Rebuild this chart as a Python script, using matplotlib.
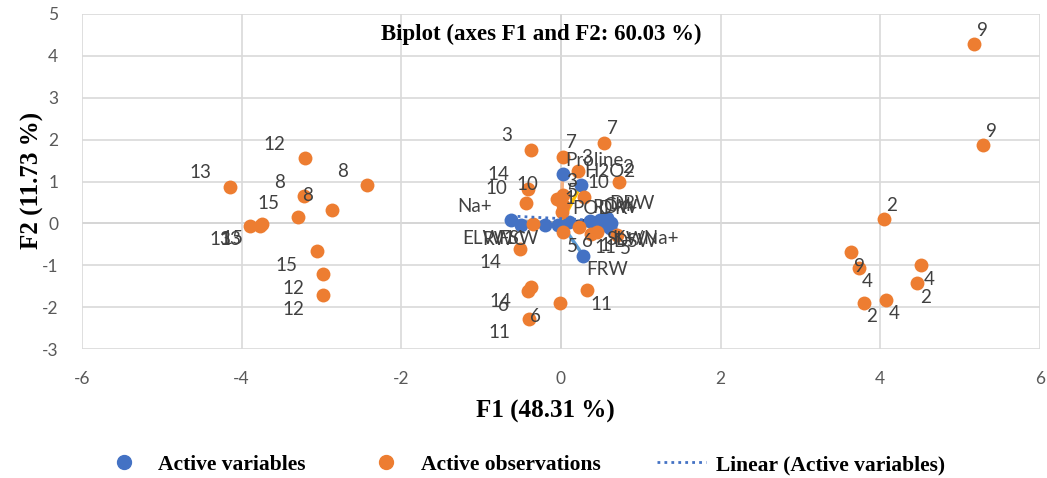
import numpy as np
import matplotlib
matplotlib.use('Agg')
import matplotlib.pyplot as plt
from matplotlib.lines import Line2D

plt.rcParams['axes.unicode_minus'] = False

# Active variables (PCA loadings)
var_names = ['Proline', 'H2O2', 'POD', 'RDW', 'K+', 'Chl', 'DRW',
             'K+/Na+', 'SLW', 'DSW', 'FRW', 'Na+', 'ELW', 'FSW', 'RWC']
var_x = [0.02, 0.25, 0.10, 0.36, 0.63, 0.49, 0.57,
         0.60, 0.53, 0.62, 0.28, -0.63, -0.50, -0.04, -0.20]
var_y = [1.17, 0.91, 0.03, 0.05, 0.02, 0.09, 0.13,
         -0.03, -0.05, -0.10, -0.77, 0.07, -0.03, -0.03, -0.05]

# Active observations
obs_x = [4.04, 3.63, 3.73, 3.79, 4.07, 4.51, 4.46, 5.17, 5.28,
         -3.21, -4.14, -2.43, -3.22, -2.87, -3.29, -3.89, -3.77, -3.74,
         -3.06, -2.98, -2.98,
         -0.38, 0.54, 0.03, 0.21, 0.73, -0.41, -0.44, -0.05, 0.03, 0.29,
         0.03, 0.01, -0.35, 0.03, 0.22, 0.38, 0.70, 0.45, -0.51, -0.38,
         -0.41, -0.40, -0.01, 0.33]
obs_y = [0.10, -0.69, -1.06, -1.90, -1.82, -1.00, -1.43, 4.28, 1.87,
         1.56, 0.87, 0.91, 0.65, 0.33, 0.15, -0.06, -0.06, -0.02,
         -0.66, -1.22, -1.72,
         1.76, 1.92, 1.59, 1.24, 0.99, 0.83, 0.49, 0.59, 0.67, 0.63,
         0.43, 0.27, -0.02, -0.21, -0.09, -0.25, -0.27, -0.20, -0.61, -1.52,
         -1.62, -2.28, -1.90, -1.60]
obs_labels = ['2', '9', '4', '2', '4', '4', '2', '9', '9',
              '12', '13', '8', '8', '8', '15', '13', '13', '15',
              '15', '12', '12',
              '3', '7', '7', '3', '2', '14', '10', '10', '3', '10',
              '5', '1', '1', '5', '6', '11', '5', '1', '14', '14',
              '6', '11', '6', '11']

BLUE = '#4472C4'
ORANGE = '#ED7D31'
LABEL_COL = '#404040'
vec_colors = ['#F4B183', '#FFC000', '#A5A5A5', '#ED7D31', '#5B9BD5', '#70AD47',
              '#264478', '#9E480E', '#636363', '#997300', '#5B9BD5', '#A5A5A5',
              '#A5A5A5', '#FFC000', '#5B9BD5']

fig = plt.figure(figsize=(10.47, 4.78), dpi=100)
ax = fig.add_axes([82/1047, 1-349/478, 958/1047, 335/478])
ax.set_xlim(-6, 6)
ax.set_ylim(-3, 5)
ax.set_xticks(range(-6, 7, 2))
ax.set_yticks(range(-3, 6))
ax.grid(True, color='#D9D9D9', linewidth=1.2, zorder=0)
ax.axhline(0, color='#BFBFBF', linewidth=1.2, zorder=1)
ax.axvline(0, color='#BFBFBF', linewidth=1.2, zorder=1)
for s in ax.spines.values():
    s.set_visible(False)
ax.tick_params(length=0, labelsize=12.5, labelcolor='#595959')
ax.tick_params(axis='x', pad=16)
ax.tick_params(axis='y', pad=17)
for lab in ax.get_xticklabels() + ax.get_yticklabels():
    lab.set_family('Lato')

# vectors from origin
for xv, yv, c in zip(var_x, var_y, vec_colors):
    ax.plot([0, xv], [0, yv], color=c, linewidth=2.5, solid_capstyle='butt', zorder=2)

ax.scatter(var_x, var_y, s=100, color=BLUE, zorder=3, linewidths=0)
ax.scatter(obs_x, obs_y, s=100, color=ORANGE, zorder=4, linewidths=0)

# linear trendline on active variables
k, b = np.polyfit(var_x, var_y, 1)
tx = np.array([min(var_x), max(var_x)])
ax.plot(tx, k * tx + b, linestyle=(0, (1, 1.5)), color=BLUE, linewidth=2, zorder=5)


def put_label(x, y, text):
    if x >= 0:
        dx, ha = 3, 'left'
    else:
        dx, ha = -19, 'right'
    dy = 14 if y >= 0 else -14
    ax.annotate(text, (x, y), xytext=(dx, dy), textcoords='offset pixels',
                ha=ha, va='center', fontsize=13.5, color=LABEL_COL,
                family='Lato', zorder=6)


for xv, yv, t in zip(var_x, var_y, var_names):
    put_label(xv, yv, t)
for xo, yo, t in zip(obs_x, obs_y, obs_labels):
    put_label(xo, yo, t)

serif = 'Liberation Serif'
ax.text(0.479, 0.94, 'Biplot (axes F1 and F2: 60.03 %)', transform=ax.transAxes,
        ha='center', va='center', fontsize=16.5, fontweight='bold', family=serif,
        zorder=7)
fig.text(545/1047, 1-411/478, 'F1 (48.31 %)', ha='center', va='center',
         fontsize=18, fontweight='bold', family=serif)
fig.text(32/1047, 1-180/478, 'F2 (11.73 %)', ha='center', va='center',
         rotation=90, fontsize=18, fontweight='bold', family=serif)

handles = [
    Line2D([], [], marker='o', linestyle='none', color=BLUE, markersize=10),
    Line2D([], [], marker='o', linestyle='none', color=ORANGE, markersize=10),
    Line2D([], [], linestyle=(0, (1, 1.5)), color=BLUE, linewidth=2),
]
fig.legend(handles, ['Active variables', 'Active observations', 'Linear (Active variables)'],
           loc='center', bbox_to_anchor=(522/1047, 1-465/478), ncol=3, frameon=False,
           prop={'family': serif, 'weight': 'bold', 'size': 15.5},
           columnspacing=2.6, handlelength=2.3, handletextpad=0.45)

fig.savefig('out.png', dpi=100)
